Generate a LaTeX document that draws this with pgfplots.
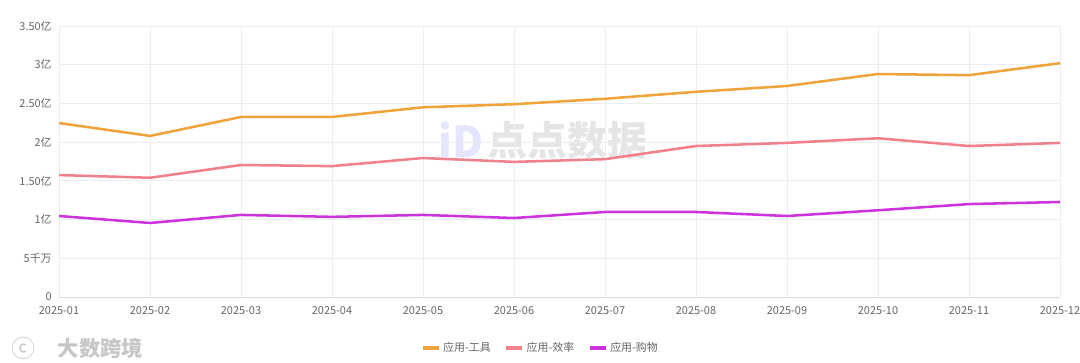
\documentclass[border=0pt]{standalone}
\usepackage{pgfplots}
\pgfplotsset{compat=1.18}
\usepackage{fontspec}
\setmainfont{Noto Sans CJK SC}
\definecolor{cTool}{RGB}{241,163,59}
\definecolor{cEff}{RGB}{240,128,140}
\definecolor{cShop}{RGB}{204,51,221}
\definecolor{cGrid}{RGB}{235,237,240}
\definecolor{cTxt}{RGB}{102,102,102}
\begin{document}
\begin{tikzpicture}[x=0.75pt,y=0.75pt]
\useasboundingbox (-59,-66) rectangle (1021,297);
\node[text=black!10, font=\fontsize{30}{30}\selectfont\bfseries, anchor=center] at (508,157) {点点数据};
\node[text=blue!10, font=\fontsize{32}{32}\selectfont\bfseries, anchor=center] at (402,157) {iD};
\begin{axis}[
  at={(0,0)}, anchor=south west,
  scale only axis, width=750.75pt, height=203.25pt,
  xmin=0, xmax=11, ymin=0, ymax=3.5,
  xtick={0,...,11},
  xticklabels={2025-01,2025-02,2025-03,2025-04,2025-05,2025-06,2025-07,2025-08,2025-09,2025-10,2025-11,2025-12},
  ytick={0,0.5,1,1.5,2,2.5,3,3.5},
  yticklabels={0,5千万,1亿,1.50亿,2亿,2.50亿,3亿,3.50亿},
  grid=major, major grid style={cGrid, line width=0.6pt},
  axis line style={draw=none},
  axis x line*=bottom, axis y line*=left,
  x axis line style={draw=black!15},
  major tick length=0pt,
  tick label style={text=cTxt, font=\fontsize{8.2}{9}\selectfont},
  xticklabel style={yshift=-4pt},
  yticklabel style={xshift=-2pt},
  legend columns=3,
  legend style={draw=none, fill=none, at={(0.481,-0.188)}, anchor=center, font=\fontsize{8.2}{9}\selectfont, text=cTxt, /tikz/every even column/.append style={column sep=8pt}},
  legend image code/.code={\draw[#1, line width=3pt] (0pt,0pt) -- (12pt,0pt);},
  every axis plot/.append style={line width=1.9pt, line join=round},
]
\addplot[cTool, mark=none] coordinates {(0,2.247) (1,2.08) (2,2.325) (3,2.325) (4,2.45) (5,2.49) (6,2.56) (7,2.65) (8,2.725) (9,2.88) (10,2.865) (11,3.02)};
\addlegendentry{应用-工具}
\addplot[cEff, mark=none] coordinates {(0,1.575) (1,1.54) (2,1.705) (3,1.69) (4,1.795) (5,1.745) (6,1.78) (7,1.95) (8,1.99) (9,2.05) (10,1.95) (11,1.99)};
\addlegendentry{应用-效率}
\addplot[cShop, mark=none] coordinates {(0,1.046) (1,0.956) (2,1.06) (3,1.035) (4,1.06) (5,1.02) (6,1.098) (7,1.098) (8,1.046) (9,1.12) (10,1.2) (11,1.227)};
\addlegendentry{应用-购物}
\end{axis}
\node[text=black!22, font=\fontsize{16}{16}\selectfont\bfseries, anchor=west] at (-6,-51) {大数跨境};
\node[text=black!22, font=\fontsize{18}{18}\selectfont, anchor=west] at (-52,-51) {ⓒ};
\end{tikzpicture}
\end{document}
